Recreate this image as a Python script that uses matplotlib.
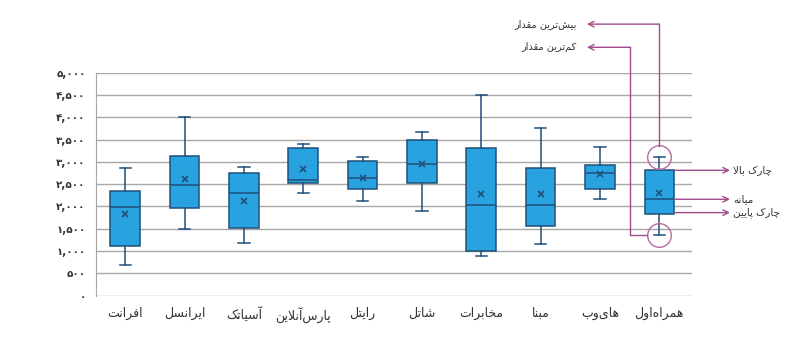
import matplotlib
matplotlib.use('Agg')
import matplotlib.pyplot as plt

# داده‌ها (خوانده شده از تصویر)
companies = ['افرانت', 'ایرانسل', 'آسیاتک', 'پارس‌آنلاین', 'رایتل',
             'شاتل', 'مخابرات', 'مبنا', 'های‌وب', 'همراه‌اول']
whis_lo = [690, 1490, 1170, 2290, 2110, 1890, 890, 1150, 2160, 1350]
q1 = [1110, 1960, 1510, 2520, 2400, 2520, 1000, 1560, 2400, 1830]
medians = [1980, 2490, 2290, 2600, 2630, 2960, 2020, 2040, 2740, 2160]
q3 = [2340, 3130, 2760, 3320, 3010, 3490, 3310, 2870, 2930, 2810]
whis_hi = [2870, 4000, 2890, 3390, 3100, 3670, 4510, 3760, 3340, 3110]
means = [1830, 2610, 2130, 2850, 2640, 2940, 2280, 2280, 2720, 2290]

y_ticks = [0, 500, 1000, 1500, 2000, 2500, 3000, 3500, 4000, 4500, 5000]
y_labels = ['۰', '۵۰۰', '۱,۰۰۰', '۱,۵۰۰', '۲,۰۰۰', '۲,۵۰۰',
            '۳,۰۰۰', '۳,۵۰۰', '۴,۰۰۰', '۴,۵۰۰', '۵,۰۰۰']

lbl_max = 'بیش‌ترین مقدار'
lbl_min = 'کم‌ترین مقدار'
lbl_q3 = 'چارک بالا'
lbl_med = 'میانه'
lbl_q1 = 'چارک پایین'

# matplotlib حروف فارسی را به هم نمی‌چسباند؛ شکل‌های نمایشی را دستی می‌سازیم
FORMS = {  # isolated, final, initial, medial
    'ا': ('\uFE8D', '\uFE8E'), 'آ': ('\uFE81', '\uFE82'),
    'د': ('\uFEA9', '\uFEAA'), 'ر': ('\uFEAD', '\uFEAE'),
    'و': ('\uFEED', '\uFEEE'),
    'ب': ('\uFE8F', '\uFE90', '\uFE91', '\uFE92'),
    'پ': ('\uFB56', '\uFB57', '\uFB58', '\uFB59'),
    'ت': ('\uFE95', '\uFE96', '\uFE97', '\uFE98'),
    'خ': ('\uFEA5', '\uFEA6', '\uFEA7', '\uFEA8'),
    'چ': ('\uFB7A', '\uFB7B', '\uFB7C', '\uFB7D'),
    'س': ('\uFEB1', '\uFEB2', '\uFEB3', '\uFEB4'),
    'ش': ('\uFEB5', '\uFEB6', '\uFEB7', '\uFEB8'),
    'ف': ('\uFED1', '\uFED2', '\uFED3', '\uFED4'),
    'ق': ('\uFED5', '\uFED6', '\uFED7', '\uFED8'),
    'ک': ('\uFB8E', '\uFB8F', '\uFB90', '\uFB91'),
    'ل': ('\uFEDD', '\uFEDE', '\uFEDF', '\uFEE0'),
    'م': ('\uFEE1', '\uFEE2', '\uFEE3', '\uFEE4'),
    'ن': ('\uFEE5', '\uFEE6', '\uFEE7', '\uFEE8'),
    'ه': ('\uFEE9', '\uFEEA', '\uFEEB', '\uFEEC'),
    'ی': ('\uFBFC', '\uFBFD', '\uFBFE', '\uFBFF'),
}
LAM_ALEF = {'ا': ('\uFEFB', '\uFEFC'), 'آ': ('\uFEF5', '\uFEF6')}


def joins_next(c):
    return c in FORMS and len(FORMS[c]) == 4


def fa(text):
    chars = list(text)
    out = []
    i = 0
    while i < len(chars):
        c = chars[i]
        if c not in FORMS:
            if c != '\u200c':
                out.append(c)
            i += 1
            continue
        prev = chars[i-1] if i > 0 else None
        nxt = chars[i+1] if i + 1 < len(chars) else None
        join_prev = prev is not None and joins_next(prev)
        if c == 'ل' and nxt in LAM_ALEF:
            out.append(LAM_ALEF[nxt][1] if join_prev else LAM_ALEF[nxt][0])
            i += 2
            continue
        join_next = joins_next(c) and nxt in FORMS
        f = FORMS[c]
        if join_prev and join_next:
            out.append(f[3])
        elif join_prev:
            out.append(f[1])
        elif join_next:
            out.append(f[2])
        else:
            out.append(f[0])
        i += 1
    return ''.join(reversed(out))


plt.rcParams['font.family'] = ['DejaVu Sans']

box_c = '#29a3e0'
edge_c = '#1f4f7a'
note_c = '#a04a8c'
txt_c = '#333333'

fig = plt.figure(figsize=(8.09, 3.53), dpi=100)
ax = fig.add_axes([95.5/809, 1-295.5/353, (692-95.5)/809, (295.5-72.7)/353])

stats = []
for i in range(len(companies)):
    stats.append(dict(med=medians[i], q1=q1[i], q3=q3[i], whislo=whis_lo[i],
                      whishi=whis_hi[i], mean=means[i], fliers=[]))

pos = list(range(len(companies)))
ax.bxp(stats, positions=pos, widths=0.5, patch_artist=True, showmeans=True,
       showfliers=False, capwidths=0.19,
       boxprops=dict(facecolor=box_c, edgecolor=edge_c, lw=1.1),
       medianprops=dict(color=edge_c, lw=1.1),
       whiskerprops=dict(color=edge_c, lw=1.1),
       capprops=dict(color=edge_c, lw=1.1),
       meanprops=dict(marker='x', markeredgecolor=edge_c, markersize=4.5, mew=1.2))

ax.set_xlim(-0.5, 9.55)
ax.set_ylim(0, 5000)
ax.set_yticks(y_ticks)
ax.set_yticklabels(y_labels, fontsize=7.5, color=txt_c, fontweight='bold')
ax.set_xticks(pos)
ax.set_xticklabels([fa(c) for c in companies], fontsize=9, color=txt_c)
ax.tick_params(axis='both', length=0)
ax.tick_params(axis='y', pad=7)
ax.tick_params(axis='x', pad=8)
ax.yaxis.grid(True, color='#a8a8a8', lw=1)
ax.set_axisbelow(True)
for s in ['top', 'right', 'bottom']:
    ax.spines[s].set_visible(False)
ax.spines['left'].set_color('#a8a8a8')

# راهنمای اجزای نمودار روی آخرین جعبه
k = len(companies) - 1
ax.plot([k], [whis_hi[k]], 'o', ms=17, mfc='none', mec='#b86aa3', mew=1, clip_on=False)
ax.plot([k], [whis_lo[k]], 'o', ms=17, mfc='none', mec='#b86aa3', mew=1, clip_on=False)

y_top1 = 6090
y_top2 = 5570
ax.plot([k, k], [whis_hi[k] + 250, y_top1], color=note_c, lw=1, clip_on=False)
ax.annotate('', xy=(7.78, y_top1), xytext=(k, y_top1), annotation_clip=False,
            arrowprops=dict(arrowstyle='->', color=note_c, lw=1, shrinkA=0, shrinkB=0))
ax.text(7.61, y_top1, fa(lbl_max), ha='right', va='center', fontsize=7, color=txt_c)

ax.plot([k - 0.2, 8.5, 8.5], [whis_lo[k], whis_lo[k], y_top2], color=note_c, lw=1,
        clip_on=False)
ax.annotate('', xy=(7.78, y_top2), xytext=(8.5, y_top2), annotation_clip=False,
            arrowprops=dict(arrowstyle='->', color=note_c, lw=1, shrinkA=0, shrinkB=0))
ax.text(7.61, y_top2, fa(lbl_min), ha='right', va='center', fontsize=7, color=txt_c)

for yv, lbl in [(q3[k], lbl_q3), (medians[k], lbl_med), (q1[k] + 30, lbl_q1)]:
    ax.annotate('', xy=(10.19, yv), xytext=(k + 0.25, yv), annotation_clip=False,
                arrowprops=dict(arrowstyle='->', color=note_c, lw=1, shrinkA=0, shrinkB=0))
    ax.text(10.24, yv, fa(lbl), ha='left', va='center', fontsize=7.5, color=txt_c)

fig.savefig('out.png', dpi=100)
